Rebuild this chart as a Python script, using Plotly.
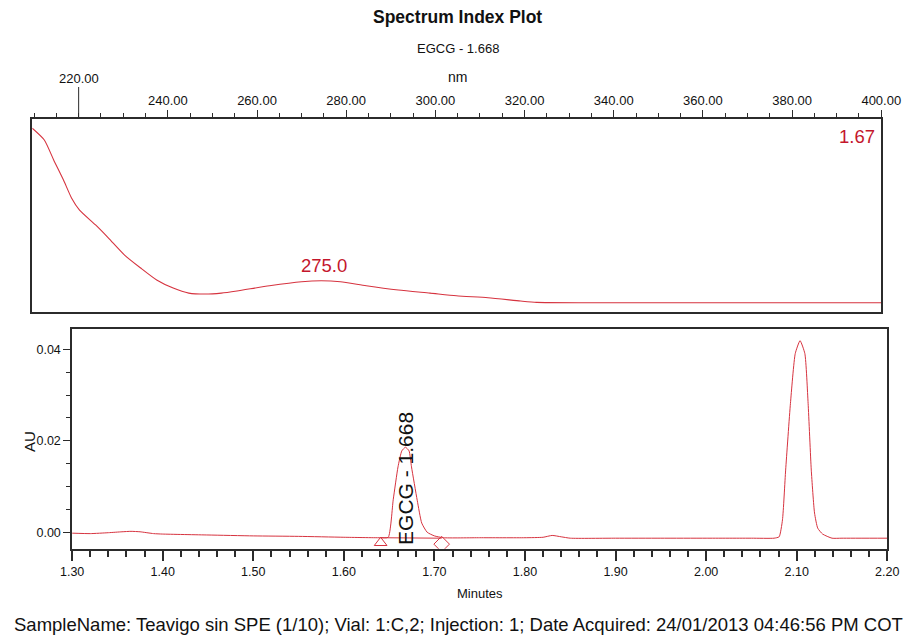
import plotly.graph_objects as go

# ---------------- data ----------------
wavelength_nm = [209.6, 212.3, 214.4, 216.6, 218.4, 220.2, 223.8, 226.7, 230.3, 233.9, 237.5,
                 241.2, 244.7, 248.4, 252.0, 255.5, 262.8, 270.0, 274.4, 278.7, 284.5, 291.7,
                 298.8, 304.7, 311.8, 319.1, 322.7, 333.5, 350.0, 375.0, 400.0]
absorbance = [0.952, 0.891, 0.788, 0.684, 0.591, 0.528, 0.451, 0.383, 0.295, 0.228, 0.166,
              0.124, 0.098, 0.093, 0.098, 0.109, 0.136, 0.157, 0.162, 0.157, 0.136, 0.114,
              0.098, 0.084, 0.074, 0.057, 0.050, 0.048, 0.048, 0.048, 0.048]
spectrum_peak_nm = 275.0
spectrum_peak_abs = 0.162
spectrum_rt_label = "1.67"
start_wavelength = 220.0

time_min = [1.300, 1.320, 1.340, 1.355, 1.365, 1.375, 1.390, 1.400, 1.450, 1.500, 1.550,
            1.600, 1.640, 1.649, 1.6545, 1.6598, 1.664, 1.668, 1.672, 1.6747, 1.681, 1.686,
            1.692, 1.700, 1.710, 1.750, 1.800, 1.820, 1.830, 1.840, 1.850, 1.900, 1.950,
            2.000, 2.050, 2.075, 2.0806, 2.0843, 2.0878, 2.0931, 2.0984, 2.1037, 2.109,
            2.1126, 2.1161, 2.1197, 2.1232, 2.1286, 2.139, 2.150, 2.200]
au = [-0.0002, -0.0003, -0.0001, 0.0001, 0.0002, 0.0001, -0.0003, -0.0004, -0.0006, -0.0008,
      -0.0009, -0.0011, -0.0012, -0.0011, 0.0071, 0.0143, 0.0178, 0.0186, 0.0178, 0.0143,
      0.0070, 0.0020, 0.0000, -0.0008, -0.0012, -0.0012, -0.0012, -0.0011, -0.0007, -0.0010,
      -0.0013, -0.0013, -0.0013, -0.0013, -0.0013, -0.0013, -0.0010, 0.0027, 0.0136, 0.0282,
      0.0391, 0.0419, 0.0391, 0.0282, 0.0136, 0.0042, 0.0009, -0.0004, -0.0013, -0.0013,
      -0.0013]

peak_name = "EGCG - 1.668"
peak_rt = 1.668
peak_start = [1.6406, -0.0012]
peak_end = [1.708, -0.0013]

top_ticks = [240, 260, 280, 300, 320, 340, 360, 380, 400]
bottom_ticks = [1.3, 1.4, 1.5, 1.6, 1.7, 1.8, 1.9, 2.0, 2.1, 2.2]
au_ticks = [0.0, 0.02, 0.04]

footer = ("SampleName: Teavigo sin SPE (1/10); Vial: 1:C,2; Injection: 1; "
          "Date Acquired: 24/01/2013 04:46:56 PM COT")

# ---------------- figure ----------------
W, H = 923, 635
RED = "#d6333f"
TXT_RED = "#c4162c"
AX = "#2b2b2b"
FONT = "Liberation Sans, Arial, sans-serif"


def px_x(p):
    return p / W


def px_y(p):
    return 1 - p / H


fig = go.Figure()

fig.add_trace(go.Scatter(x=wavelength_nm, y=absorbance, mode="lines",
                         line=dict(color=RED, width=1.1, shape="spline", smoothing=0.6),
                         xaxis="x", yaxis="y", hoverinfo="skip", showlegend=False))

fig.add_trace(go.Scatter(x=time_min, y=au, mode="lines",
                         line=dict(color=RED, width=1.0, shape="spline", smoothing=0.5),
                         xaxis="x2", yaxis="y2", showlegend=False))
fig.add_trace(go.Scatter(x=[peak_start[0], peak_end[0]], y=[peak_start[1], peak_end[1]],
                         mode="lines", line=dict(color=RED, width=1.0),
                         xaxis="x2", yaxis="y2", showlegend=False))
fig.add_trace(go.Scatter(x=[peak_start[0]], y=[peak_start[1] - 0.0011], mode="markers",
                         marker=dict(symbol="triangle-up-open", size=11, color=RED,
                                     line=dict(width=1, color=RED)),
                         xaxis="x2", yaxis="y2", showlegend=False))
fig.add_trace(go.Scatter(x=[peak_end[0]], y=[peak_end[1] - 0.0013], mode="markers",
                         marker=dict(symbol="diamond-open", size=12, color=RED,
                                     line=dict(width=1, color=RED)),
                         xaxis="x2", yaxis="y2", showlegend=False))

top_dom_x = [px_x(21), px_x(900.5)]
top_dom_y = [px_y(312), px_y(119)]
bot_dom_x = [px_x(62.3), px_x(906.7)]
bot_dom_y = [px_y(548.7), px_y(329.3)]

fig.update_layout(
    width=W, height=H,
    margin=dict(l=0, r=0, t=0, b=0),
    paper_bgcolor="white", plot_bgcolor="white",
    hovermode=False,
    xaxis=dict(domain=top_dom_x, anchor="y", side="top", range=[209.6, 400],
               tickvals=top_ticks, tickformat=".2f", ticks="outside", ticklen=7.5,
               tickcolor=AX, tickwidth=1, tickfont=dict(family=FONT, size=13, color="#111"),
               minor=dict(dtick=5, tick0=0, ticks="outside", ticklen=4, tickcolor=AX),
               showline=True, linecolor=AX, linewidth=1.6, mirror=True,
               showgrid=False, zeroline=False),
    yaxis=dict(domain=top_dom_y, anchor="x", range=[0, 1], showticklabels=False,
               ticks="", showline=True, linecolor=AX, linewidth=1.6, mirror=True,
               showgrid=False, zeroline=False),
    xaxis2=dict(domain=bot_dom_x, anchor="y2", range=[1.3, 2.2], tickvals=bottom_ticks,
                tickformat=".2f", ticks="outside", ticklen=10, tickcolor=AX, tickwidth=1.5,
                tickfont=dict(family=FONT, size=12.5, color="#111"),
                minor=dict(dtick=0.02, tick0=1.3, ticks="outside", ticklen=6, tickcolor=AX,
                           tickwidth=1.5),
                showline=True, linecolor=AX, linewidth=1.6, mirror=True,
                showgrid=False, zeroline=False),
    yaxis2=dict(domain=bot_dom_y, anchor="x2", range=[-0.0036, 0.0444], tickvals=au_ticks,
                tickformat=".2f", ticks="outside", ticklen=7, tickcolor=AX, tickwidth=1.3,
                tickfont=dict(family=FONT, size=12.5, color="#111"),
                minor=dict(dtick=0.005, tick0=0, ticks="outside", ticklen=4, tickcolor=AX,
                           tickwidth=1.3),
                showline=True, linecolor=AX, linewidth=1.6, mirror=True,
                showgrid=False, zeroline=False),
    showlegend=False,
)


def ann(text, x, y, size, xref="paper", yref="paper", color="#111", xanchor="center",
        yanchor="middle", angle=0, yshift=0):
    fig.add_annotation(xref=xref, yref=yref, x=x, y=y, text=text, showarrow=False,
                       xanchor=xanchor, yanchor=yanchor, textangle=angle, yshift=yshift,
                       font=dict(family=FONT, size=size, color=color))


# start wavelength marker (tall tick with raised label)
fig.add_shape(type="line", xref="x", yref="paper", x0=start_wavelength, x1=start_wavelength,
              y0=px_y(119), y1=px_y(87), line=dict(color=AX, width=1))
ann(f"{start_wavelength:.2f}", start_wavelength, px_y(79), 13, xref="x")

ann("<b>Spectrum Index Plot</b>", px_x(462), px_y(17), 17.5)
ann(peak_name, px_x(462), px_y(48), 13)
ann("nm", px_x(462), px_y(77), 14)

ann(f"{spectrum_peak_nm:.1f}", spectrum_peak_nm, spectrum_peak_abs, 18.5, xref="x", yref="y",
    color=TXT_RED, yshift=15)
ann(spectrum_rt_label, px_x(896), px_y(136), 18.5, color=TXT_RED, xanchor="right")

ann(peak_name, peak_rt, px_y(547), 21, xref="x2", yanchor="bottom", angle=-90)

ann("AU", px_x(17.5), px_y(441), 15, angle=-90)
ann("Minutes", px_x(484.5), px_y(593), 13)

ann(footer, px_x(463), px_y(624), 18.5)

fig.write_html("out.html")
